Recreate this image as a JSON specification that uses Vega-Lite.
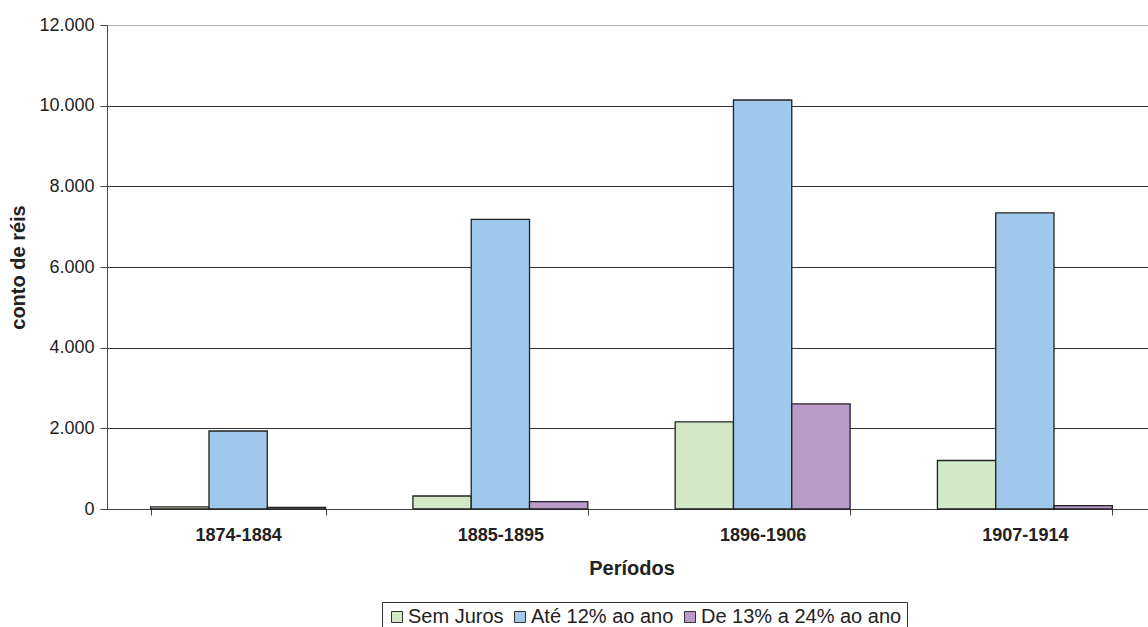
{
  "$schema": "https://vega.github.io/schema/vega-lite/v6.json",
  "autosize": "none",
  "width": 1041,
  "height": 484,
  "padding": {"left": 107, "top": 25, "right": 0, "bottom": 118},
  "background": "white",
  "config": {
    "view": {"stroke": null},
    "font": "Liberation Sans"
  },
  "data": {
    "values": [
      {"periodo": "1874-1884", "serie": "Sem Juros", "valor": 55},
      {"periodo": "1874-1884", "serie": "Até 12% ao ano", "valor": 1934},
      {"periodo": "1874-1884", "serie": "De 13% a 24% ao ano", "valor": 40},
      {"periodo": "1885-1895", "serie": "Sem Juros", "valor": 322},
      {"periodo": "1885-1895", "serie": "Até 12% ao ano", "valor": 7182},
      {"periodo": "1885-1895", "serie": "De 13% a 24% ao ano", "valor": 182},
      {"periodo": "1896-1906", "serie": "Sem Juros", "valor": 2158},
      {"periodo": "1896-1906", "serie": "Até 12% ao ano", "valor": 10140},
      {"periodo": "1896-1906", "serie": "De 13% a 24% ao ano", "valor": 2606},
      {"periodo": "1907-1914", "serie": "Sem Juros", "valor": 1203},
      {"periodo": "1907-1914", "serie": "Até 12% ao ano", "valor": 7340},
      {"periodo": "1907-1914", "serie": "De 13% a 24% ao ano", "valor": 83}
    ]
  },
  "mark": {"type": "bar", "stroke": "#222222", "strokeWidth": 1.3},
  "encoding": {
    "x": {
      "field": "periodo",
      "type": "nominal",
      "sort": null,
      "scale": {"paddingInner": 0.333, "paddingOuter": 0.1665, "range": [0, 1049]},
      "axis": {
        "title": "Períodos",
        "titleFont": "Liberation Sans",
        "titleFontSize": 20,
        "titleFontWeight": "bold",
        "titleColor": "#222",
        "titlePadding": 14,
        "labelAngle": 0,
        "labelFont": "Liberation Sans",
        "labelFontSize": 18,
        "labelFontWeight": "bold",
        "labelColor": "#222",
        "labelPadding": 11,
        "tickBand": "extent",
        "tickSize": 6,
        "tickColor": "#444",
        "domainColor": "#444",
        "grid": false
      }
    },
    "y": {
      "field": "valor",
      "type": "quantitative",
      "scale": {"domain": [0, 12000]},
      "axis": {
        "title": "conto de réis",
        "titleFont": "Liberation Sans",
        "titleFontSize": 20,
        "titleFontWeight": "bold",
        "titleColor": "#222",
        "titlePadding": 10,
        "values": [0, 2000, 4000, 6000, 8000, 10000, 12000],
        "labelExpr": "replace(format(datum.value, ','), ',', '.')",
        "labelFont": "Liberation Sans",
        "labelFontSize": 18,
        "labelColor": "#222",
        "labelPadding": 6,
        "tickSize": 7,
        "tickColor": "#444",
        "domainColor": "#444",
        "grid": true,
        "gridColor": {"condition": {"test": "datum.value === 12000", "value": "#b0b0b0"}, "value": "#333333"},
        "gridWidth": 1
      }
    },
    "xOffset": {"field": "serie", "type": "nominal", "sort": ["Sem Juros", "Até 12% ao ano", "De 13% a 24% ao ano"], "scale": {"paddingInner": 0, "paddingOuter": 0}},
    "color": {
      "field": "serie",
      "type": "nominal",
      "sort": ["Sem Juros", "Até 12% ao ano", "De 13% a 24% ao ano"],
      "scale": {
        "domain": ["Sem Juros", "Até 12% ao ano", "De 13% a 24% ao ano"],
        "range": ["#d2e8c6", "#9fc8ea", "#b89bc8"]
      },
      "legend": {
        "title": null,
        "orient": "none",
        "direction": "horizontal",
        "legendX": 275,
        "legendY": 577,
        "strokeColor": "#333",
        "padding": 5,
        "symbolType": "square",
        "symbolSize": 121,
        "symbolStrokeColor": "#333",
        "symbolStrokeWidth": 1,
        "symbolOpacity": 1,
        "labelFont": "Liberation Sans",
        "labelFontSize": 20,
        "labelColor": "#222",
        "labelOffset": 1,
        "labelLimit": 400,
        "columnPadding": 6,
        "fillColor": "white"
      }
    }
  }
}
